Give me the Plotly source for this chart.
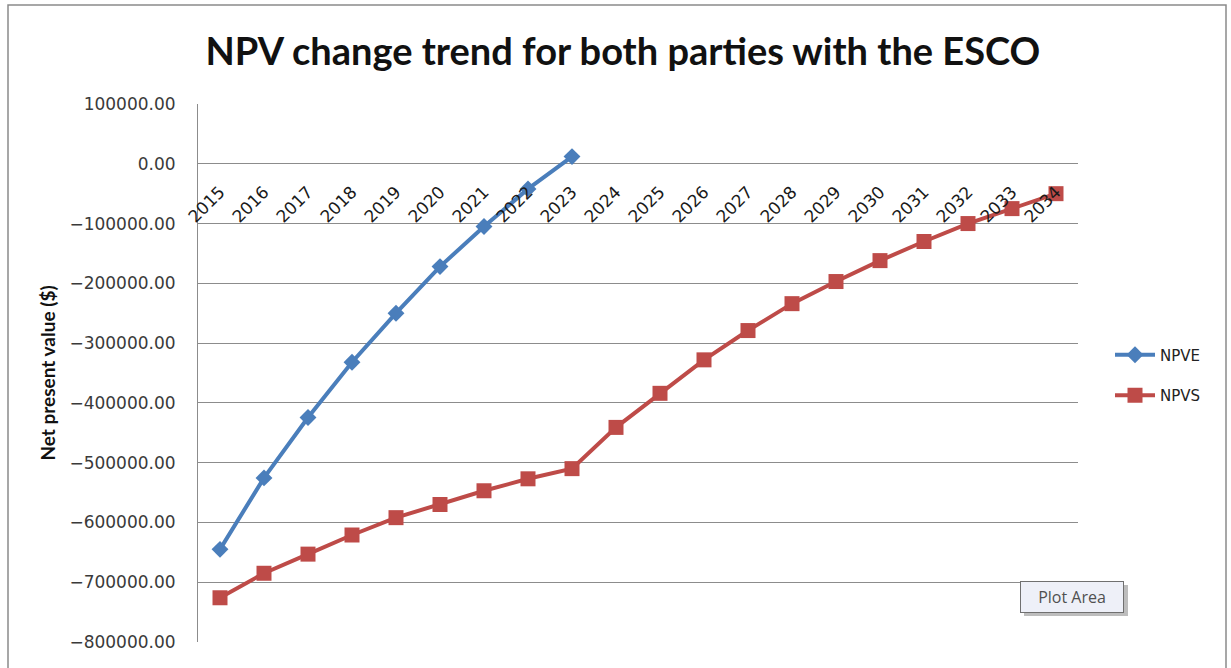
import plotly.graph_objects as go

# Years and net present values for the two parties
years = [str(y) for y in range(2015, 2035)]
npve = [-645000, -525500, -424500, -332000, -250000, -172000, -105000, -42000, 12000]
npvs = [-726000, -685000, -653000, -621000, -592000, -570000, -547000, -527000, -510000,
        -441000, -384000, -328000, -279000, -234000, -197000, -162000, -130000, -100000,
        -75000, -50000]
y_ticks = list(range(-800000, 100001, 100000))

W, H = 1231, 668
L, R, T, B = 198, 153, 104, 26
pw, ph = W - L - R, H - T - B
y_min, y_max = -800000, 100000

blue = "#4A7EBB"
red = "#BE4B48"
grid = "#8C8C8C"

fig = go.Figure()
fig.add_trace(go.Scatter(
    x=years[:len(npve)], y=npve, name="NPVE", mode="lines+markers",
    line=dict(color=blue, width=4),
    marker=dict(symbol="diamond", size=13, color=blue),
    legendgroup="e",
))
fig.add_trace(go.Scatter(
    x=years, y=npvs, name="NPVS", mode="lines+markers",
    line=dict(color=red, width=4),
    marker=dict(symbol="square", size=15, color=red),
    legendgroup="s",
))


def px_x(v):
    return (v - L) / pw


def px_y(v):
    return (H - B - v) / ph


fig.update_layout(
    width=W, height=H,
    margin=dict(l=L, r=R, t=T, b=B),
    paper_bgcolor="white", plot_bgcolor="white",
    title=dict(
        text="<b>NPV change trend for both parties with the ESCO</b>",
        font=dict(family="Lato", size=38, color="#111111"),
        x=0.506, xanchor="center", y=1 - 52 / H, yanchor="middle",
    ),
    xaxis=dict(
        type="category", categoryorder="array", categoryarray=years,
        range=[-0.5, len(years) - 0.5],
        anchor="free", position=(0 - y_min) / (y_max - y_min),
        showgrid=False, showline=False, zeroline=False, ticks="",
        tickangle=-45, ticklabelstandoff=14,
        tickfont=dict(family="DejaVu Sans", size=17, color="#1a1a1a"),
    ),
    yaxis=dict(
        range=[y_min, y_max], tickvals=y_ticks, tickformat=".2f",
        showgrid=True, gridcolor=grid, gridwidth=1,
        zeroline=False, showline=True, linecolor=grid, linewidth=1,
        ticks="", ticklabelstandoff=18,
        tickfont=dict(family="DejaVu Sans", size=17, color="#3a3a3a"),
        title=dict(text="<b>Net present value ($)</b>",
                   font=dict(family="Lato", size=19, color="#111111"),
                   standoff=8),
    ),
    legend=dict(
        x=px_x(1110), xanchor="left", y=px_y(375), yanchor="middle",
        font=dict(family="DejaVu Sans", size=15, color="#222222"),
        traceorder="grouped", tracegroupgap=18,
        bgcolor="rgba(0,0,0,0)", itemwidth=40,
    ),
    showlegend=True,
)

# Chart frame
fig.add_shape(type="rect", xref="paper", yref="paper",
              x0=px_x(8), x1=px_x(1226), y0=px_y(690), y1=px_y(5),
              line=dict(color="#8A8A8A", width=1.5), fillcolor="rgba(0,0,0,0)",
              layer="below")

# "Plot Area" tooltip with a soft shadow
fig.add_shape(type="rect", xref="paper", yref="paper",
              x0=px_x(1024), x1=px_x(1128), y0=px_y(616), y1=px_y(585),
              line=dict(width=0), fillcolor="rgba(90,90,90,0.40)")
fig.add_annotation(
    xref="paper", yref="paper", x=px_x(1072), y=px_y(597),
    xanchor="center", yanchor="middle",
    text="Plot Area", showarrow=False,
    font=dict(family="Open Sans", size=16, color="#505050"),
    bgcolor="#EEF0F8", bordercolor="#707070", borderwidth=1, borderpad=3,
    width=96, height=24,
)

fig.write_html("out.html")
